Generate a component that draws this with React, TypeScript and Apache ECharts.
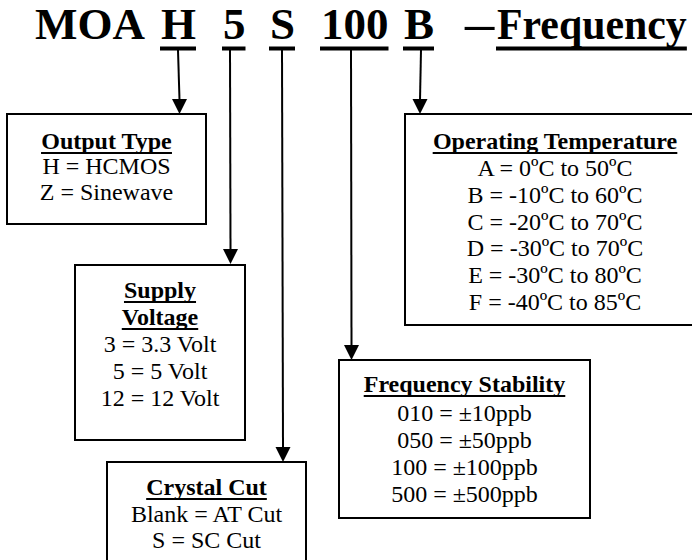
import React, { useEffect, useRef } from "react";
import * as echarts from "echarts";

// ---- content ----
const codeParts = ["MOA", "H", "5", "S", "100", "B", "\u2013", "Frequency"];
const codeUnderlined = [false, true, true, true, true, true, false, true];

const outputTypeTitle = ["Output Type"];
const outputTypeLines = ["H = HCMOS", "Z = Sinewave"];

const supplyTitle = ["Supply", "Voltage"];
const supplyLines = ["3 = 3.3 Volt", "5 = 5 Volt", "12 = 12 Volt"];

const crystalTitle = ["Crystal Cut"];
const crystalLines = ["Blank = AT Cut", "S = SC Cut"];

const stabilityTitle = ["Frequency Stability"];
const stabilityLines = ["010 = \u00b110ppb", "050 = \u00b150ppb", "100 = \u00b1100ppb", "500 = \u00b1500ppb"];

const tempTitle = ["Operating Temperature"];
const tempLines = [
  "A = 0\u00baC to 50\u00baC",
  "B = -10\u00baC to 60\u00baC",
  "C = -20\u00baC to 70\u00baC",
  "D = -30\u00baC to 70\u00baC",
  "E = -30\u00baC to 80\u00baC",
  "F = -40\u00baC to 85\u00baC",
];

// ---- layout ----
const FONT_FAMILY = "'Liberation Serif', 'Times New Roman', serif";
const TITLE_FS = 45;
const BOX_FS = 24;
const codeX = [35, 161, 223, 270, 321, 404, 465, 497];
const codeScaleX = [1, 1, 1, 1, 1, 1, 1.3, 0.93];
const codeBaseline = 39;

type Box = {
  rect: [number, number, number, number];
  cx: number;
  titles: string[];
  lines: string[];
  baselines: number[];
};

const boxes: Box[] = [
  { rect: [7, 114, 199, 110], cx: 106.5, titles: outputTypeTitle, lines: outputTypeLines, baselines: [149, 174, 200] },
  { rect: [405, 114, 300, 211], cx: 555, titles: tempTitle, lines: tempLines, baselines: [149, 176, 203, 230, 256, 283, 310] },
  { rect: [75, 265, 170, 175], cx: 160, titles: supplyTitle, lines: supplyLines, baselines: [298, 325, 352, 379, 406] },
  { rect: [107, 462, 199, 130], cx: 206.5, titles: crystalTitle, lines: crystalLines, baselines: [495, 522, 548] },
  { rect: [339, 360, 251, 158], cx: 464.5, titles: stabilityTitle, lines: stabilityLines, baselines: [392, 421, 448, 475, 502] },
];

// arrows: [x top, y top, x tip, y tip]
const arrows: [number, number, number, number][] = [
  [178, 50, 179.5, 114],
  [230, 50, 230.5, 264],
  [282, 50, 283, 462],
  [351, 50, 351.5, 360],
  [421, 50, 420, 114],
];

function measure(text: string, font: string): number {
  const c = document.createElement("canvas").getContext("2d");
  if (!c) return text.length * 10;
  c.font = font;
  return c.measureText(text).width;
}

function textEl(text: string, x: number, baseline: number, fs: number, bold: boolean, align: string, scaleX = 1) {
  const font = `${bold ? "bold " : ""}${fs}px ${FONT_FAMILY}`;
  return {
    type: "text",
    z: 10,
    x,
    y: baseline - 0.3375 * fs,
    scaleX,
    style: {
      text,
      x: 0,
      y: 0,
      font,
      fill: "#000",
      textAlign: align,
      textVerticalAlign: "middle",
    },
  };
}

function buildGraphic() {
  const els: any[] = [];
  els.push({ type: "rect", shape: { x: 0, y: 0, width: 692, height: 560 }, style: { fill: "#fff" }, z: 0 });

  // code title
  codeParts.forEach((p, i) => {
    els.push(textEl(p, codeX[i], codeBaseline, TITLE_FS, true, "left", codeScaleX[i]));
    if (codeUnderlined[i]) {
      const w = measure(p, `bold ${TITLE_FS}px ${FONT_FAMILY}`) * codeScaleX[i];
      els.push({ type: "rect", z: 10, shape: { x: codeX[i] - 1, y: 46.5, width: w + 1, height: 4 }, style: { fill: "#000" } });
    }
  });

  // arrows
  arrows.forEach(([x1, y1, x2, y2]) => {
    const headH = 15;
    const headW = 7.5;
    els.push({ type: "line", z: 5, shape: { x1, y1, x2, y2: y2 - headH + 1 }, style: { stroke: "#000", lineWidth: 2 } });
    els.push({
      type: "polygon",
      z: 5,
      shape: { points: [[x2 - headW, y2 - headH], [x2 + headW, y2 - headH], [x2, y2]] },
      style: { fill: "#000" },
    });
  });

  // boxes
  boxes.forEach((b) => {
    const [x, y, w, h] = b.rect;
    els.push({ type: "rect", z: 6, shape: { x, y, width: w, height: h }, style: { fill: "#fff", stroke: "#000", lineWidth: 2 } });
    const all = [...b.titles, ...b.lines];
    all.forEach((t, i) => {
      const bold = i < b.titles.length;
      const bl = b.baselines[i];
      els.push(textEl(t, b.cx, bl, BOX_FS, bold, "center"));
      if (bold) {
        const tw = measure(t, `bold ${BOX_FS}px ${FONT_FAMILY}`);
        els.push({ type: "rect", z: 10, shape: { x: b.cx - tw / 2, y: bl + 3, width: tw, height: 2 }, style: { fill: "#000" } });
      }
    });
  });
  return els;
}

export default function App() {
  const ref = useRef<HTMLDivElement>(null);
  useEffect(() => {
    if (!ref.current) return;
    const chart = echarts.init(ref.current, undefined, { renderer: "svg" });
    chart.setOption({
      animation: false,
      backgroundColor: "#fff",
      graphic: buildGraphic(),
    });
    return () => chart.dispose();
  }, []);
  return <div ref={ref} style={{ position: "fixed", left: 0, top: 0, width: 692, height: 560 }} />;
}
